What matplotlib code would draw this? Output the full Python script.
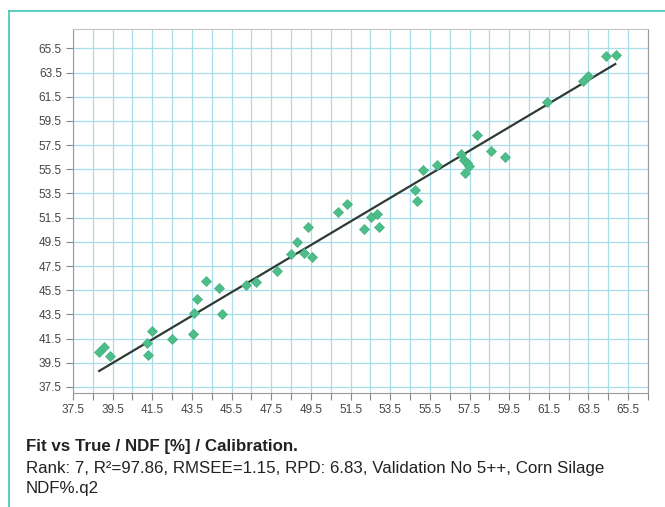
import numpy as np
import matplotlib
matplotlib.use('Agg')
import matplotlib.pyplot as plt
from matplotlib.lines import Line2D
from matplotlib.ticker import FixedLocator

plt.rcParams['font.family'] = ['Liberation Sans', 'DejaVu Sans']

# true vs fitted NDF values
ndf_true = [38.82, 39.08, 39.36, 41.23, 41.48, 41.26, 42.47, 43.56, 43.61, 43.74,
            44.23, 44.87, 45.00, 46.25, 46.75, 47.77, 48.51, 48.78, 49.15, 49.35,
            49.53, 50.88, 51.33, 52.17, 52.54, 52.84, 52.92, 54.74, 54.85, 55.14,
            55.86, 57.09, 57.20, 57.37, 57.49, 57.25, 57.88, 58.58, 59.27, 61.43,
            63.21, 63.50, 64.39, 64.89]
ndf_fit = [40.42, 40.83, 40.06, 41.11, 42.15, 40.17, 41.49, 41.85, 43.59, 44.77,
           46.24, 45.71, 43.53, 45.90, 46.20, 47.09, 48.47, 49.51, 48.60, 50.75,
           48.22, 51.94, 52.60, 50.56, 51.52, 51.80, 50.75, 53.78, 52.90, 55.43,
           55.85, 56.73, 56.26, 55.99, 55.79, 55.16, 58.33, 57.00, 56.48, 61.03,
           62.79, 63.23, 64.88, 64.99]

# regression line end points
line_x = [38.82, 64.85]
line_y = [38.82, 64.20]

tick_vals = np.arange(37.5, 66.0, 2)
tick_labels = ['%.1f' % v for v in tick_vals]

fig = plt.figure(figsize=(6.65, 5.07), dpi=100)
ax = fig.add_axes([0.1098, 0.2249, 0.8646, 0.7179])

grid_col = '#a8dde9'
ax.set_xlim(37.5, 66.5)
ax.set_ylim(37.0, 67.1)
ax.xaxis.set_major_locator(FixedLocator(tick_vals))
ax.xaxis.set_minor_locator(FixedLocator(np.arange(38.5, 66.6, 2)))
ax.yaxis.set_major_locator(FixedLocator(tick_vals))
ax.set_xticklabels(tick_labels)
ax.set_yticklabels(tick_labels)
ax.grid(True, which='both', axis='x', color=grid_col, lw=0.9)
ax.grid(True, which='major', axis='y', color=grid_col, lw=0.9)
ax.set_axisbelow(True)
ax.tick_params(which='both', direction='out', length=5, width=0.8, color='#888888',
               labelsize=8.5, labelcolor='#444444', pad=3)
for s in ax.spines.values():
    s.set_color('#9a9a9a')
    s.set_linewidth(0.8)
ax.spines['top'].set_color('#c4c4c4')

ax.plot(line_x, line_y, color='#2e3b33', lw=1.6, zorder=3)
ax.plot(ndf_true, ndf_fit, 'D', ms=4.6, color='#4dbd8a', mec='#45b07f', mew=0.5, zorder=4)

# teal frame on left and top
frame_col = '#3cc8b4'
fig.add_artist(Line2D([9 / 665, 1], [1 - 11 / 507] * 2, color=frame_col, lw=1.2,
                      transform=fig.transFigure))
fig.add_artist(Line2D([9 / 665] * 2, [0, 1 - 11 / 507], color=frame_col, lw=1.2,
                      transform=fig.transFigure))

fig.text(26 / 665, 1 - 447 / 507, 'Fit vs True / NDF [%] / Calibration.', fontsize=12.2,
         fontweight='bold', color='#222222', va='center')
fig.text(26 / 665, 1 - 468 / 507,
         'Rank: 7, R\u00b2=97.86, RMSEE=1.15, RPD: 6.83, Validation No 5++, Corn Silage',
         fontsize=12.2, color='#222222', va='center')
fig.text(26 / 665, 1 - 488 / 507, 'NDF%.q2', fontsize=12.2, color='#222222', va='center')

fig.savefig('out.png', dpi=100)
